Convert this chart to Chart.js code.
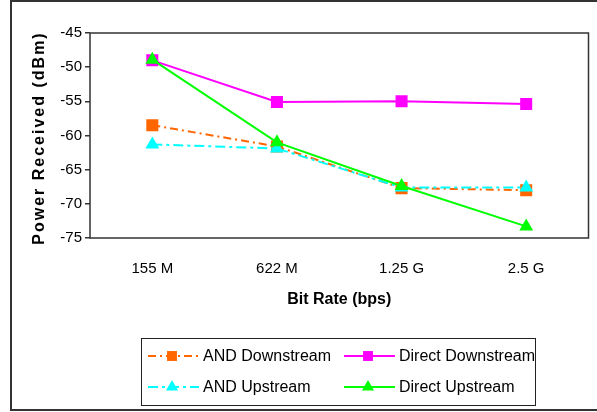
<!DOCTYPE html>
<html>
<head>
<meta charset="utf-8">
<script src="https://cdn.jsdelivr.net/npm/chart.js@4/dist/chart.umd.min.js"></script>
<style>
  html, body { margin: 0; padding: 0; background: #fff; }
  #wrap { width: 597px; height: 412px; position: relative; }
</style>
</head>
<body>
<div id="wrap"><canvas id="powerChart" width="597" height="412"></canvas></div>
<script>
// Datos del gráfico
const bitRates = ["155 M", "622 M", "1.25 G", "2.5 G"];
const andDownstream = [-58.5, -61.6, -67.7, -68.0];
const directDownstream = [-49.0, -55.1, -55.0, -55.4];
const andUpstream = [-61.3, -61.9, -67.6, -67.6];
const directUpstream = [-48.9, -61.0, -67.4, -73.3];
const yTicks = [-45, -50, -55, -60, -65, -70, -75];

const FONT = "'Liberation Sans', Arial, sans-serif";

// Marco exterior, borde del área de trazado y título del eje Y
const framePlugin = {
    id: "frame",
    afterDraw(chart) {
        const ctx = chart.ctx;
        const a = chart.chartArea;
        ctx.save();
        ctx.strokeStyle = "#333";
        ctx.lineWidth = 1.5;
        ctx.strokeRect(a.left, a.top, a.right - a.left, a.bottom - a.top);
        ctx.lineWidth = 2;
        ctx.strokeRect(11, 1, 600, 409);

        // título Y con espaciado de letras
        ctx.translate(40, 138);
        ctx.rotate(-Math.PI / 2);
        ctx.fillStyle = "#000";
        ctx.font = "bold 16px " + FONT;
        ctx.letterSpacing = "2px";
        ctx.textAlign = "center";
        ctx.textBaseline = "middle";
        ctx.fillText("Power Received (dBm)", 0, 0);
        ctx.restore();
    }
};

// Leyenda propia: línea + marcador como en el original
function drawMarker(ctx, style, x, y, r, color) {
    ctx.fillStyle = color;
    ctx.beginPath();
    if (style === "rect") {
        const s = r * Math.SQRT1_2;
        ctx.rect(x - s, y - s, 2 * s, 2 * s);
    } else {
        ctx.moveTo(x, y - r);
        ctx.lineTo(x + r * Math.sin(Math.PI / 3), y + r / 2);
        ctx.lineTo(x - r * Math.sin(Math.PI / 3), y + r / 2);
        ctx.closePath();
    }
    ctx.fill();
}

const legendPlugin = {
    id: "boxLegend",
    afterDraw(chart) {
        const ctx = chart.ctx;
        const cols = [148, 344];
        const rows = [356, 387];
        ctx.save();
        ctx.strokeStyle = "#222";
        ctx.lineWidth = 1;
        ctx.strokeRect(141.5, 338.5, 394, 67);
        ctx.font = "16px " + FONT;
        ctx.textBaseline = "middle";
        ctx.textAlign = "left";
        chart.data.datasets.forEach((ds, i) => {
            const x = cols[i % 2];
            const y = rows[Math.floor(i / 2)];
            ctx.strokeStyle = ds.borderColor;
            ctx.lineWidth = 2;
            ctx.setLineDash(ds.borderDash || []);
            ctx.beginPath();
            ctx.moveTo(x, y);
            ctx.lineTo(x + 51, y);
            ctx.stroke();
            ctx.setLineDash([]);
            drawMarker(ctx, ds.pointStyle, x + 24, y, 7, ds.pointBackgroundColor);
            ctx.fillStyle = "#000";
            ctx.fillText(ds.label, x + 55, y + 1);
        });
        ctx.restore();
    }
};

function serie(label, data, color, style, dash, order) {
    return {
        label: label,
        data: data,
        borderColor: color,
        backgroundColor: color,
        pointBackgroundColor: color,
        pointBorderColor: color,
        pointBorderWidth: 0,
        pointStyle: style,
        pointRadius: style === "rect" ? 8.5 : 8,
        borderWidth: 2,
        borderDash: dash,
        order: order,
        tension: 0
    };
}

new Chart(document.getElementById("powerChart"), {
    type: "line",
    data: {
        labels: bitRates,
        datasets: [
            serie("AND Downstream", andDownstream, "#FF6600", "rect", [8, 4, 2, 4], 2),
            serie("Direct Downstream", directDownstream, "#FF00FF", "rect", [], 3),
            serie("AND Upstream", andUpstream, "#00FFFF", "triangle", [10, 4, 3, 4], 1),
            serie("Direct Upstream", directUpstream, "#00FF00", "triangle", [], 0)
        ]
    },
    options: {
        responsive: false,
        animation: false,
        layout: { padding: { left: 0, right: 8, top: 33, bottom: 99 } },
        plugins: {
            legend: { display: false },
            tooltip: { enabled: false }
        },
        scales: {
            x: {
                offset: true,
                grid: { display: false, drawTicks: false },
                border: { display: false },
                ticks: {
                    color: "#000",
                    font: { family: FONT, size: 15 },
                    padding: 22,
                    maxRotation: 0
                },
                title: {
                    display: true,
                    text: "Bit Rate (bps)",
                    color: "#000",
                    font: { family: FONT, size: 16, weight: "bold" },
                    padding: { top: 0, bottom: 4 }
                },
                afterFit(scale) { scale.height = 75; }
            },
            y: {
                min: -75,
                max: -45,
                afterBuildTicks(scale) {
                    scale.ticks = yTicks.map(v => ({ value: v }));
                },
                grid: {
                    drawOnChartArea: false,
                    drawTicks: true,
                    tickLength: 5,
                    color: "#333",
                    lineWidth: 1.5
                },
                border: { display: false },
                ticks: {
                    color: "#000",
                    font: { family: FONT, size: 15 },
                    padding: 3
                },
                afterFit(scale) { scale.width = 90; }
            }
        }
    },
    plugins: [framePlugin, legendPlugin]
});
</script>
</body>
</html>
